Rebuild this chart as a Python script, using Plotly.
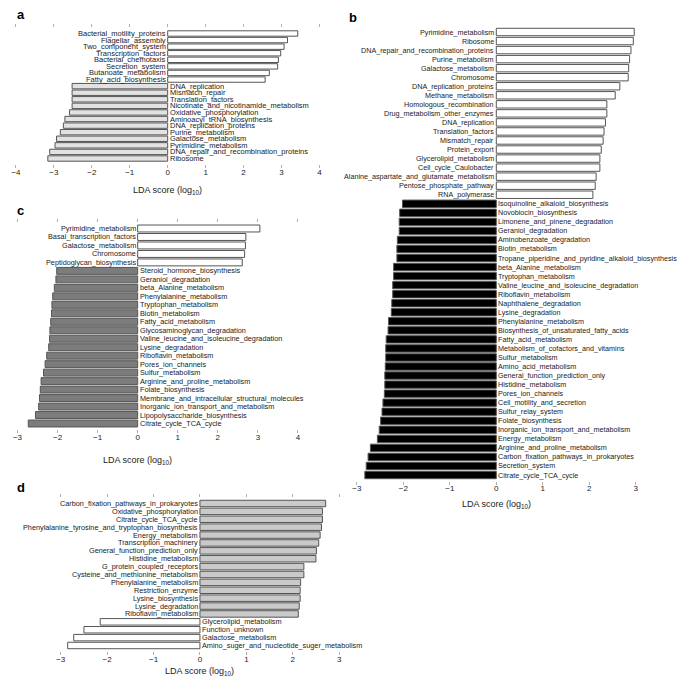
import plotly.graph_objects as go

# ---------------- DATA ----------------
# Panel a
a_pos_labels = ["Bacterial_motility_proteins", "Flagellar_assembly", "Two_component_system",
                "Transcription_factors", "Bacterial_chemotaxis", "Secretion_system",
                "Butanoate_metabolism", "Fatty_acid_biosynthesis"]
a_pos_values = [3.43, 3.16, 3.07, 2.98, 2.92, 2.90, 2.68, 2.57]
a_neg_labels = ["DNA_replication", "Mismatch_repair", "Translation_factors",
                "Nicotinate_and_nicotinamide_metabolism", "Oxidative_phosphorylation",
                "Aminoacyl_tRNA_biosynthesis", "DNA_replication_proteins", "Purine_metabolism",
                "Galactose_metabolism", "Pyrimidine_metabolism",
                "DNA_repair_and_recombination_proteins", "Ribosome"]
a_neg_values = [-2.52, -2.52, -2.52, -2.52, -2.59, -2.71, -2.75, -2.83, -2.93, -2.97, -3.11, -3.16]

# Panel b
b_pos_labels = ["Pyrimidine_metabolism", "Ribosome", "DNA_repair_and_recombination_proteins",
                "Purine_metabolism", "Galactose_metabolism", "Chromosome",
                "DNA_replication_proteins", "Methane_metabolism", "Homologous_recombination",
                "Drug_metabolism_other_enzymes", "DNA_replication", "Translation_factors",
                "Mismatch_repair", "Protein_export", "Glycerolipid_metabolism",
                "Cell_cycle_Caulobacter", "Alanine_aspartate_and_glutamate_metabolism",
                "Pentose_phosphate_pathway", "RNA_polymerase"]
b_pos_values = [2.97, 2.95, 2.90, 2.87, 2.85, 2.84, 2.66, 2.56, 2.38, 2.38, 2.35, 2.32,
                2.30, 2.26, 2.23, 2.23, 2.15, 2.13, 2.08]
b_neg_labels = ["Isoquinoline_alkaloid_biosynthesis", "Novobiocin_biosynthesis",
                "Limonene_and_pinene_degradation", "Geraniol_degradation",
                "Aminobenzoate_degradation", "Biotin_metabolism",
                "Tropane_piperidine_and_pyridine_alkaloid_biosynthesis", "beta_Alanine_metabolism",
                "Tryptophan_metabolism", "Valine_leucine_and_isoleucine_degradation",
                "Riboflavin_metabolism", "Naphthalene_degradation", "Lysine_degradation",
                "Phenylalanine_metabolism", "Biosynthesis_of_unsaturated_fatty_acids",
                "Fatty_acid_metabolism", "Metabolism_of_cofactors_and_vitamins",
                "Sulfur_metabolism", "Amino_acid_metabolism", "General_function_prediction_only",
                "Histidine_metabolism", "Pores_ion_channels", "Cell_motility_and_secretion",
                "Sulfur_relay_system", "Folate_biosynthesis",
                "Inorganic_ion_transport_and_metabolism", "Energy_metabolism",
                "Arginine_and_proline_metabolism", "Carbon_fixation_pathways_in_prokaryotes",
                "Secretion_system", "Citrate_cycle_TCA_cycle"]
b_neg_values = [-2.02, -2.08, -2.09, -2.09, -2.13, -2.14, -2.14, -2.21, -2.21, -2.23, -2.23,
                -2.25, -2.26, -2.32, -2.33, -2.37, -2.38, -2.38, -2.39, -2.40, -2.40, -2.41,
                -2.44, -2.46, -2.49, -2.52, -2.56, -2.71, -2.76, -2.80, -2.83]

# Panel c
c_pos_labels = ["Pyrimidine_metabolism", "Basal_transcription_factors", "Galactose_metabolism",
                "Chromosome", "Peptidoglycan_biosynthesis"]
c_pos_values = [3.05, 2.70, 2.69, 2.67, 2.61]
c_neg_labels = ["Steroid_hormone_biosynthesis", "Geraniol_degradation", "beta_Alanine_metabolism",
                "Phenylalanine_metabolism", "Tryptophan_metabolism", "Biotin_metabolism",
                "Fatty_acid_metabolism", "Glycosaminoglycan_degradation",
                "Valine_leucine_and_isoleucine_degradation", "Lysine_degradation",
                "Riboflavin_metabolism", "Pores_ion_channels", "Sulfur_metabolism",
                "Arginine_and_proline_metabolism", "Folate_biosynthesis",
                "Membrane_and_intracellular_structural_molecules",
                "Inorganic_ion_transport_and_metabolism", "Lipopolysaccharide_biosynthesis",
                "Citrate_cycle_TCA_cycle"]
c_neg_values = [-2.02, -2.04, -2.08, -2.12, -2.14, -2.15, -2.17, -2.19, -2.20, -2.22, -2.27,
                -2.31, -2.35, -2.41, -2.43, -2.45, -2.47, -2.55, -2.73]

# Panel d
d_pos_labels = ["Carbon_fixation_pathways_in_prokaryotes", "Oxidative_phosphorylation",
                "Citrate_cycle_TCA_cycle", "Phenylalanine_tyrosine_and_tryptophan_biosynthesis",
                "Energy_metabolism", "Transcription_machinery", "General_function_prediction_only",
                "Histidine_metabolism", "G_protein_coupled_receptors",
                "Cysteine_and_methionine_metabolism", "Phenylalanine_metabolism",
                "Restriction_enzyme", "Lysine_biosynthesis", "Lysine_degradation",
                "Riboflavin_metabolism"]
d_pos_values = [2.71, 2.64, 2.64, 2.62, 2.59, 2.56, 2.51, 2.50, 2.24, 2.24, 2.17, 2.16, 2.16,
                2.14, 2.12]
d_neg_labels = ["Glycerolipid_metabolism", "Function_unknown", "Galactose_metabolism",
                "Amino_suger_and_nucleotide_suger_metabolism"]
d_neg_values = [-2.15, -2.50, -2.72, -2.85]

# ---------------- LAYOUT / STYLE ----------------
W, H = 685, 678
FONT = "Liberation Sans, Arial, Helvetica, sans-serif"
TXT = "#222222"


def xd(x0, x1):
    return [x0 / W, x1 / W]


def yd(top, bottom):
    return [1 - bottom / H, 1 - top / H]


panels = [
    dict(letter="a", pos=(a_pos_labels, a_pos_values), neg=(a_neg_labels, a_neg_values),
         pos_fill="#ffffff", neg_fill="#e2e2e2", xr=[-4, 4], ticks=list(range(-4, 5)),
         xdom=xd(3, 310), ydom=yd(20, 156), mirror=True, fs=7.5,
         letter_xy=(2, 7), title_y=182),
    dict(letter="b", pos=(b_pos_labels, b_pos_values), neg=(b_neg_labels, b_neg_values),
         pos_fill="#ffffff", neg_fill="#000000", xr=[-3, 3], ticks=list(range(-3, 4)),
         xdom=xd(348, 630), ydom=yd(18.5, 472.5), mirror=False, fs=7.2,
         letter_xy=(338, 10), title_y=497),
    dict(letter="c", pos=(c_pos_labels, c_pos_values), neg=(c_neg_labels, c_neg_values),
         pos_fill="#ffffff", neg_fill="#7c7c7c", xr=[-3, 4], ticks=list(range(-3, 5)),
         xdom=xd(4.5, 288.3), ydom=yd(215, 421), mirror=True, fs=7.3,
         letter_xy=(2, 202), title_y=452),
    dict(letter="d", pos=(d_pos_labels, d_pos_values), neg=(d_neg_labels, d_neg_values),
         pos_fill="#cacaca", neg_fill="#ffffff", xr=[-3, 3], ticks=list(range(-3, 4)),
         xdom=xd(48.3, 330), ydom=yd(490, 643), mirror=True, fs=7.3,
         letter_xy=(2, 479), title_y=663),
]

fig = go.Figure()
annotations = []
layout_axes = {}

for i, p in enumerate(panels):
    n = "" if i == 0 else str(i + 1)
    xa, ya = "x" + n, "y" + n
    pl, pv = p["pos"]
    nl, nv = p["neg"]
    fig.add_trace(go.Bar(x=pv, y=pl, orientation="h", xaxis=xa, yaxis=ya,
                         marker=dict(color=p["pos_fill"], line=dict(color="#555555", width=1)),
                         showlegend=False, hoverinfo="x+y"))
    fig.add_trace(go.Bar(x=nv, y=nl, orientation="h", xaxis=xa, yaxis=ya,
                         marker=dict(color=p["neg_fill"], line=dict(color="#555555", width=1)),
                         showlegend=False, hoverinfo="x+y"))
    layout_axes["xaxis" + n] = dict(
        domain=p["xdom"], anchor=ya, range=p["xr"], tickvals=p["ticks"],
        showgrid=False, zeroline=False, showline=False,
        ticks="outside", ticklen=3, tickwidth=1, tickcolor="#b0b0b0",
        mirror="ticks" if p["mirror"] else False, ticklabelstandoff=-3,
        tickfont=dict(family=FONT, size=8, color=TXT), fixedrange=True)
    layout_axes["yaxis" + n] = dict(
        domain=p["ydom"], anchor=xa, type="category",
        categoryorder="array", categoryarray=pl + nl, autorange="reversed",
        showticklabels=False, ticks="", showgrid=False, zeroline=False, showline=False,
        fixedrange=True)
    for lab in pl:
        annotations.append(dict(x=0, y=lab, xref=xa, yref=ya, text=lab, showarrow=False,
                                xanchor="right", yanchor="middle", xshift=-1, borderpad=0,
                                font=dict(family=FONT, size=p["fs"], color=TXT)))
    for lab in nl:
        annotations.append(dict(x=0, y=lab, xref=xa, yref=ya, text=lab, showarrow=False,
                                xanchor="left", yanchor="middle", xshift=1, borderpad=0,
                                font=dict(family=FONT, size=p["fs"], color=TXT)))
    # axis title centered on zero
    annotations.append(dict(x=0, y=1 - p["title_y"] / H, xref=xa, yref="paper",
                            text="LDA score (log<sub>10</sub>)", showarrow=False,
                            xanchor="center", yanchor="middle",
                            font=dict(family=FONT, size=9, color=TXT)))
    lx, ly = p["letter_xy"]
    annotations.append(dict(x=lx / W, y=1 - ly / H, xref="paper", yref="paper",
                            text="<b>%s</b>" % p["letter"], showarrow=False,
                            xanchor="left", yanchor="middle",
                            font=dict(family=FONT, size=13, color="#000000")))

fig.update_layout(
    width=W, height=H, margin=dict(l=0, r=0, t=0, b=0),
    paper_bgcolor="white", plot_bgcolor="white",
    barmode="overlay", bargap=0.18, showlegend=False,
    annotations=annotations, **layout_axes)

fig.write_html("out.html")
